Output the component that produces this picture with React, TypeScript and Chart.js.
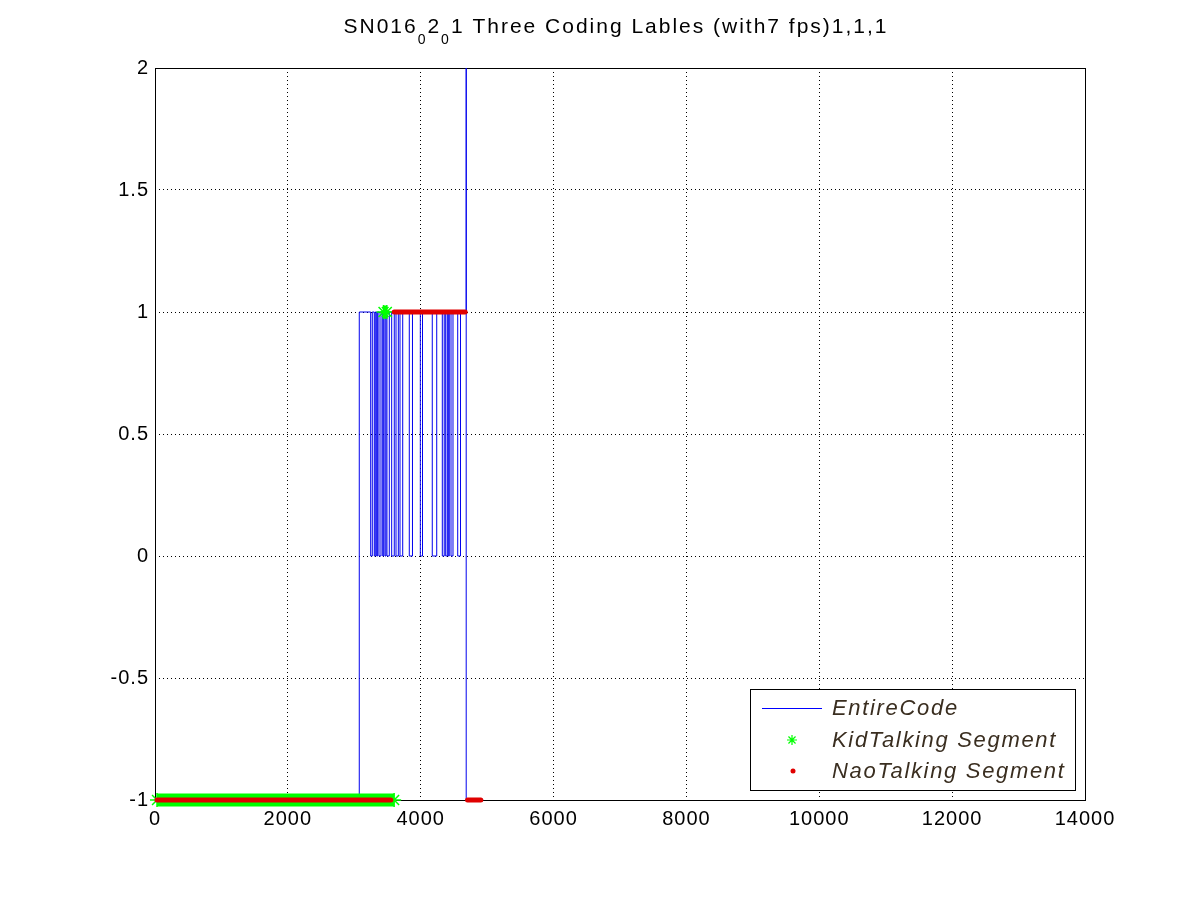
import React, { useEffect, useRef } from "react";
import Chart from "chart.js/auto";

const titleParts: [string, boolean][] = [
  ["SN016", false],
  ["0", true],
  ["2", false],
  ["0", true],
  ["1 Three Coding Lables (with7 fps)1,1,1", false],
];
const legendLabels = ["EntireCode", "KidTalking Segment", "NaoTalking Segment"];

const xTicks = [0, 2000, 4000, 6000, 8000, 10000, 12000, 14000];
const yTicks = [-1, -0.5, 0, 0.5, 1, 1.5, 2];

// EntireCode: frame where the code changes, and the level it changes to
const codeFrames = [
  0, 3075, 3247, 3271, 3301, 3316, 3337, 3352, 3372, 3402, 3428, 3443, 3462, 3477, 3492, 3527, 3563, 3602, 3628,
  3663, 3688, 3729, 3828, 3876, 3994, 4027, 4174, 4241, 4325, 4354, 4376, 4400, 4415, 4430, 4456, 4486, 4557, 4599,
  4685, 4685, 4940,
];
const codeLevels = [
  -1, 1, 0, 1, 0, 1, 0, 1, 0, 1, 0, 1, 0, 1, 0, 1, 0, 1, 0,
  1, 0, 1, 0, 1, 0, 1, 0, 1, 0, 1, 0, 1, 0, 1, 0, 1, 0, 1,
  2, -1, -1,
];

// talking segments (runs of markers)
const kidStart = [30, 3440];
const kidEnd = [3600, 3490];
const kidLevel = [-1, 1];

const naoStart = [30, 3601, 4705];
const naoEnd = [3550, 4669, 4905];
const naoLevel = [-1, 1, -1];

const FONT = "'Liberation Sans', Arial, Helvetica, sans-serif";

const segments = (starts: number[], ends: number[], levels: number[]) =>
  starts.flatMap((s, i) => [
    { x: s, y: levels[i] },
    { x: ends[i], y: levels[i] },
    { x: ends[i], y: null },
  ]);

const drawStar = (ctx: CanvasRenderingContext2D, x: number, y: number, r: number) => {
  const d = r * Math.SQRT1_2;
  ctx.beginPath();
  ctx.moveTo(x - r, y);
  ctx.lineTo(x + r, y);
  ctx.moveTo(x, y - r);
  ctx.lineTo(x, y + r);
  ctx.moveTo(x - d, y - d);
  ctx.lineTo(x + d, y + d);
  ctx.moveTo(x - d, y + d);
  ctx.lineTo(x + d, y - d);
  ctx.stroke();
};

const matlabLook = {
  id: "matlabLook",
  beforeLayout(chart: any) {
    chart.ctx.letterSpacing = "1px";
  },
  beforeDraw(chart: any) {
    chart.ctx.letterSpacing = "1px";
  },
  beforeDatasetsDraw(chart: any) {
    const { ctx, chartArea: a } = chart;
    ctx.save();
    ctx.strokeStyle = "#000";
    ctx.lineWidth = 1;
    ctx.setLineDash([]);
    ctx.strokeRect(Math.round(a.left) + 0.5, Math.round(a.top) + 0.5, Math.round(a.right - a.left), Math.round(a.bottom - a.top));
    ctx.restore();
  },
  afterDraw(chart: any) {
    const { ctx, chartArea: a } = chart;
    ctx.save();

    // title with subscripts
    const mainFont = `21px ${FONT}`;
    const subFont = `14px ${FONT}`;
    ctx.letterSpacing = "0px";
    let natural = 0;
    let chars = 0;
    const widths = titleParts.map(([t, sub]) => {
      ctx.font = sub ? subFont : mainFont;
      const w = ctx.measureText(t).width;
      natural += w;
      chars += t.length;
      return w;
    });
    const titleWidth = 545;
    const ls = (titleWidth - natural) / chars;
    let x = (a.left + a.right) / 2 - 4 - titleWidth / 2;
    ctx.fillStyle = "#000";
    ctx.textBaseline = "alphabetic";
    ctx.textAlign = "left";
    ctx.letterSpacing = `${ls}px`;
    titleParts.forEach(([t, sub], i) => {
      ctx.font = sub ? subFont : mainFont;
      ctx.fillText(t, x, sub ? 44 : 33);
      x += widths[i] + ls * t.length;
    });

    // legend box
    const lx = a.right - 335;
    const ly = a.bottom - 111;
    ctx.letterSpacing = "0px";
    ctx.fillStyle = "#fff";
    ctx.fillRect(lx, ly, 325, 101);
    ctx.strokeStyle = "#000";
    ctx.lineWidth = 1;
    ctx.strokeRect(Math.round(lx) + 0.5, Math.round(ly) + 0.5, 325, 101);

    const legendFont = `italic 22px ${FONT}`;
    ctx.font = legendFont;
    const refW = ctx.measureText(legendLabels[1]).width;
    const lls = (225 - refW) / legendLabels[1].length;
    const rows = [ly + 19, ly + 51, ly + 82];

    ctx.strokeStyle = "#0000ff";
    ctx.beginPath();
    ctx.moveTo(lx + 12, rows[0] + 0.5);
    ctx.lineTo(lx + 72, rows[0] + 0.5);
    ctx.stroke();

    ctx.strokeStyle = "#00ff00";
    ctx.lineWidth = 1.2;
    drawStar(ctx, lx + 42, rows[1], 5);

    ctx.fillStyle = "#e00000";
    ctx.beginPath();
    ctx.arc(lx + 43, rows[2], 2.5, 0, Math.PI * 2);
    ctx.fill();

    ctx.fillStyle = "#3a2e20";
    ctx.textBaseline = "middle";
    ctx.letterSpacing = `${lls}px`;
    legendLabels.forEach((t, i) => ctx.fillText(t, lx + 82, rows[i] + 1));

    ctx.restore();
  },
};

const App: React.FC = () => {
  const canvas = useRef<HTMLCanvasElement>(null);
  const chart = useRef<Chart>();

  useEffect(() => {
    chart.current = new Chart(canvas.current!.getContext("2d")!, {
      type: "line",
      data: {
        datasets: [
          {
            label: legendLabels[0],
            data: codeFrames.map((f, i) => ({ x: f, y: codeLevels[i] })),
            stepped: "before",
            borderColor: "#0000ee",
            borderWidth: 1,
            pointRadius: 0,
            order: 3,
          },
          {
            label: legendLabels[1],
            data: segments(kidStart, kidEnd, kidLevel) as any,
            borderColor: "#00ff00",
            borderWidth: 13,
            pointStyle: "star",
            pointRadius: 7,
            pointBorderWidth: 1.5,
            pointBorderColor: "#00ff00",
            spanGaps: false,
            clip: false as any,
            order: 2,
          },
          {
            label: legendLabels[2],
            data: segments(naoStart, naoEnd, naoLevel) as any,
            borderColor: "#e00000",
            borderWidth: 5,
            borderCapStyle: "round",
            pointRadius: 0,
            spanGaps: false,
            clip: false as any,
            order: 1,
          },
        ],
      },
      options: {
        responsive: false,
        animation: false,
        events: [],
        layout: { padding: { left: 95, right: 115, top: 68, bottom: 60 } },
        plugins: {
          legend: { display: false },
          title: { display: false },
          tooltip: { enabled: false },
        },
        scales: {
          x: {
            type: "linear",
            min: 0,
            max: 14000,
            afterBuildTicks: (scale: any) => {
              scale.ticks = xTicks.map(v => ({ value: v }));
            },
            afterFit: (scale: any) => {
              scale.height = 40;
              scale.paddingLeft = 0;
              scale.paddingRight = 0;
            },
            ticks: {
              autoSkip: false,
              maxRotation: 0,
              padding: 7,
              color: "#000",
              font: { family: FONT, size: 20 },
              callback: v => String(v),
            },
            grid: { color: "#000", lineWidth: 1, drawTicks: false },
            border: { display: false, dash: [1, 3] },
          },
          y: {
            type: "linear",
            min: -1,
            max: 2,
            afterBuildTicks: (scale: any) => {
              scale.ticks = yTicks.map(v => ({ value: v }));
            },
            afterFit: (scale: any) => {
              scale.width = 60;
              scale.paddingTop = 0;
              scale.paddingBottom = 0;
            },
            ticks: {
              padding: 6,
              color: "#000",
              font: { family: FONT, size: 20 },
              callback: v => String(v),
            },
            grid: { color: "#000", lineWidth: 1, drawTicks: false },
            border: { display: false, dash: [1, 3] },
          },
        },
      },
      plugins: [matlabLook],
    });

    return () => {
      chart.current?.destroy();
    };
  }, []);

  return (
    <div style={{ position: "fixed", left: 0, top: 0, width: 1200, height: 900, background: "#fff" }}>
      <canvas ref={canvas} width={1200} height={900} style={{ width: 1200, height: 900 }}></canvas>
    </div>
  );
};

export default App;
